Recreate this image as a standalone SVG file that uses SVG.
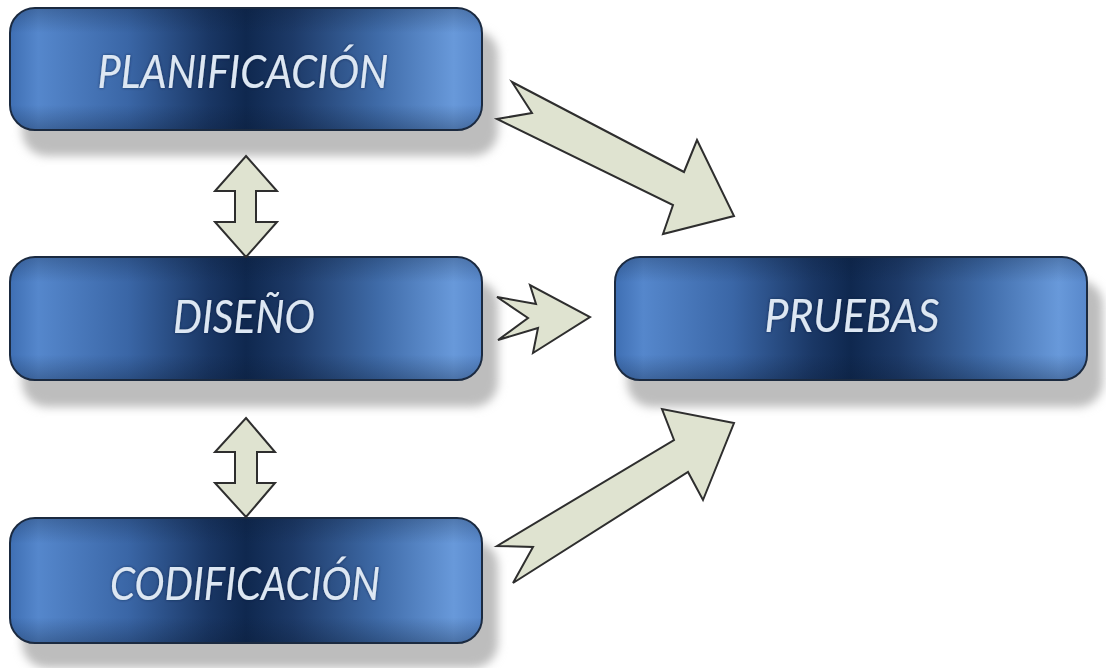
<svg xmlns="http://www.w3.org/2000/svg" width="1106" height="668" viewBox="0 0 1106 668">
<defs>
<linearGradient id="boxGrad" x1="0" y1="0" x2="1" y2="0">
<stop offset="0" stop-color="#3f6fb3"/>
<stop offset="0.06" stop-color="#5587cc"/>
<stop offset="0.25" stop-color="#3a66a6"/>
<stop offset="0.42" stop-color="#1a3765"/>
<stop offset="0.5" stop-color="#0f284f"/>
<stop offset="0.6" stop-color="#1d3a68"/>
<stop offset="0.78" stop-color="#3f6ba8"/>
<stop offset="0.94" stop-color="#6899da"/>
<stop offset="1" stop-color="#5888cb"/>
</linearGradient>
<linearGradient id="boxShade" x1="0" y1="0" x2="0" y2="1">
<stop offset="0" stop-color="#0a1a33" stop-opacity="0.25"/>
<stop offset="0.2" stop-color="#0a1a33" stop-opacity="0"/>
<stop offset="0.8" stop-color="#0a1a33" stop-opacity="0"/>
<stop offset="1" stop-color="#0a1a33" stop-opacity="0.3"/>
</linearGradient>
<filter id="shadowBlur" x="-10%" y="-20%" width="120%" height="150%">
<feGaussianBlur stdDeviation="5"/>
</filter>
<filter id="glow" x="-5%" y="-20%" width="110%" height="140%">
<feGaussianBlur in="SourceAlpha" stdDeviation="1.5" result="b"/>
<feFlood flood-color="#0a1c3a" flood-opacity="0.6"/>
<feComposite in2="b" operator="in" result="s"/>
<feMerge><feMergeNode in="s"/><feMergeNode in="SourceGraphic"/></feMerge>
</filter>
</defs>
<style>
.shadow{fill:#bdbdbd;filter:url(#shadowBlur);}
.box{fill:url(#boxGrad);stroke:#1b2a40;stroke-width:2;}
.shade{fill:url(#boxShade);}
.label{font-family:Lato,"Open Sans","Liberation Sans",sans-serif;font-style:italic;font-size:46px;fill:#dde7f3;text-anchor:middle;filter:url(#glow);}
.arrow{fill:#dfe3d0;stroke:#2e2e2e;stroke-width:2;stroke-linejoin:miter;}
</style>
<rect width="1106" height="668" fill="#ffffff"/>

<g id="planificacion">
<rect class="shadow" x="22" y="30" width="476" height="126" rx="25"/>
<rect class="box" x="10" y="8" width="472" height="122" rx="25"/>
<rect class="shade" x="11" y="9" width="470" height="120" rx="24"/>
<text class="label" x="243" y="88" textLength="291" lengthAdjust="spacingAndGlyphs">PLANIFICACIÓN</text>
</g>

<g id="diseno">
<rect class="shadow" x="22" y="280" width="476" height="127" rx="25"/>
<rect class="box" x="10" y="257" width="472" height="123" rx="25"/>
<rect class="shade" x="11" y="258" width="470" height="121" rx="24"/>
<text class="label" x="244" y="333" textLength="142" lengthAdjust="spacingAndGlyphs">DISEÑO</text>
</g>

<g id="pruebas">
<rect class="shadow" x="627" y="280" width="476" height="127" rx="25"/>
<rect class="box" x="615" y="257" width="472" height="123" rx="25"/>
<rect class="shade" x="616" y="258" width="470" height="121" rx="24"/>
<text class="label" x="852" y="332" textLength="175" lengthAdjust="spacingAndGlyphs">PRUEBAS</text>
</g>

<g id="codificacion">
<rect class="shadow" x="22" y="541" width="476" height="127" rx="25"/>
<rect class="box" x="10" y="518" width="472" height="125" rx="25"/>
<rect class="shade" x="11" y="519" width="470" height="123" rx="24"/>
<text class="label" x="245" y="600" textLength="270" lengthAdjust="spacingAndGlyphs">CODIFICACIÓN</text>
</g>

<g id="connectors">
<polygon class="arrow" points="512,82 684,172 697,140 734,216 663,234 673,205 497,119 532,113"/>
<polygon class="arrow" points="497,297 536,304 530,285 590,317 533,353 538,328 498,340 528,318"/>
<polygon class="arrow" points="497,546 674,440 662,409 734,423 703,500 688,472 513,583 533,547"/>
<polygon class="arrow" points="246,156 277,191 256,191 256,222 277,222 246,257 215,222 235,222 235,191 215,191"/>
<polygon class="arrow" points="246,418 275,452 257,452 257,483 275,483 246,517 215,483 235,483 235,452 215,452"/>
</g>
</svg>
